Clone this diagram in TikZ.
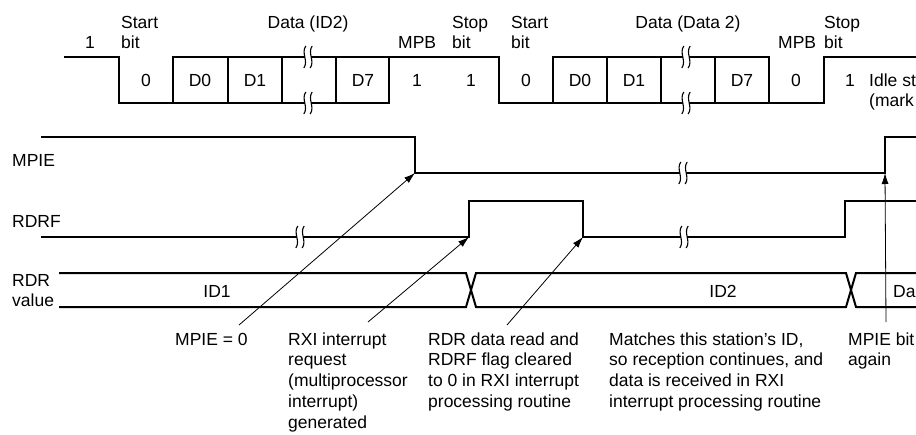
\documentclass[tikz,border=0pt]{standalone}
\usepackage{fontspec}
\setmainfont{Liberation Sans}
\usetikzlibrary{arrows.meta}
\newcommand\mlines[1]{\begin{tabular}[t]{@{}l@{}}#1\end{tabular}}
\newcommand\brkmark[2]{%
  \fill[white] (#1-3.2,#2-1.8) rectangle (#1+3.2,#2+1.8);
  \foreach \s in {-1,1}{
    \draw[brk] (#1+3.2*\s+1,#2-11) .. controls (#1+3.2*\s-4,#2-4) and (#1+3.2*\s+4,#2+4) .. (#1+3.2*\s-1,#2+11);}%
}
\begin{document}
\begin{tikzpicture}[x=1pt,y=-1pt,
  wave/.style={line width=2pt, line join=miter, line cap=rect},
  brk/.style={line width=1.1pt},
  pointer/.style={line width=0.8pt, -{Latex[length=11pt,width=7pt]}},
  lbl/.style={inner sep=0pt, font=\fontsize{17.5}{20.8}\selectfont},
  ]
\useasboundingbox (0,0) rectangle (916,434);
\clip (0,0) rectangle (916,434);

% ---------- serial waveform ----------
\draw[wave] (65,57) -- (119,57) -- (119,103) -- (173,103) -- (173,57) -- (499,57)
  -- (499,103) -- (553,103) -- (553,57) -- (769,57);
\draw[wave] (173,103) -- (389,103);
\draw[wave] (553,103) -- (824,103) -- (824,57) -- (920,57);
\foreach \x in {228,282,336,389,607,661,715,769}
  \draw[wave] (\x,57) -- (\x,103);
\brkmark{308}{57}
\brkmark{308}{103}
\brkmark{686}{57}
\brkmark{686}{103}

% top labels
\node[lbl, anchor=base] (one0) at (90,48) {1};
\node[lbl, anchor=base west] (start1) at (121,28) {\mlines{Start\\bit}};
\node[lbl, anchor=base] (data1) at (308,28) {Data (ID2)};
\node[lbl, anchor=base west] (mpb1) at (398,48) {MPB};
\node[lbl, anchor=base west] (stop1) at (452,28) {\mlines{Stop\\bit}};
\node[lbl, anchor=base west] (start2) at (511,28) {\mlines{Start\\bit}};
\node[lbl, anchor=base] (data2) at (688,28) {Data (Data 2)};
\node[lbl, anchor=base west] (mpb2) at (778,48) {MPB};
\node[lbl, anchor=base west] (stop2) at (824,28) {\mlines{Stop\\bit}};

% bit values
\node[lbl, anchor=base] (b1) at (146,86) {0};
\node[lbl, anchor=base] (b2) at (200,86) {D0};
\node[lbl, anchor=base] (b3) at (255,86) {D1};
\node[lbl, anchor=base] (b4) at (363,86) {D7};
\node[lbl, anchor=base] (b5) at (417,86) {1};
\node[lbl, anchor=base] (b6) at (471,86) {1};
\node[lbl, anchor=base] (b7) at (526,86) {0};
\node[lbl, anchor=base] (b8) at (580,86) {D0};
\node[lbl, anchor=base] (b9) at (634,86) {D1};
\node[lbl, anchor=base] (b10) at (742,86) {D7};
\node[lbl, anchor=base] (b11) at (796,86) {0};
\node[lbl, anchor=base] (b12) at (850,86) {1};
\node[lbl, anchor=base west] (idle) at (869,86) {\mlines{Idle st\\(mark}};

% ---------- MPIE ----------
\node[lbl, anchor=base west] (lmpie) at (12,166) {MPIE};
\draw[wave] (42,137) -- (415,137) -- (415,173) -- (885,173) -- (885,137) -- (920,137);
\brkmark{683}{173}
\coordinate (mpiefall) at (415,173);
\coordinate (mpierise) at (885,173);

% ---------- RDRF ----------
\node[lbl, anchor=base west] (lrdrf) at (12,227) {RDRF};
\draw[wave] (42,237) -- (469,237) -- (469,201) -- (583,201) -- (583,237) -- (845,237)
  -- (845,201) -- (920,201);
\brkmark{300}{237}
\brkmark{684}{237}
\coordinate (rdrfrise) at (469,237);
\coordinate (rdrffall) at (583,237);

% ---------- RDR value ----------
\node[lbl, anchor=base west] (lrdr) at (12,286) {\mlines{RDR\\value}};
\draw[wave] (60,273) -- (466,273) -- (476,307) -- (846,307) -- (856,273) -- (920,273);
\draw[wave] (60,307) -- (466,307) -- (476,273) -- (846,273) -- (856,307) -- (920,307);
\node[lbl, anchor=base] (id1) at (217,297) {ID1};
\node[lbl, anchor=base] (id2) at (723,297) {ID2};
\node[lbl, anchor=base west] (dat) at (893,297) {Da};

% ---------- notes ----------
\node[lbl, anchor=base west] (n1) at (175,345) {MPIE = 0};
\node[lbl, anchor=base west] (n2) at (288,345) {\mlines{RXI interrupt\\request\\(multiprocessor\\interrupt)\\generated}};
\node[lbl, anchor=base west] (n3) at (428,345) {\mlines{RDR data read and\\RDRF flag cleared\\to 0 in RXI interrupt\\processing routine}};
\node[lbl, anchor=base west] (n4) at (609,345) {\mlines{Matches this station's ID,\\so reception continues, and\\data is received in RXI\\interrupt processing routine}};
\node[lbl, anchor=base west] (n5) at (848,345) {\mlines{MPIE bit\\again}};

\coordinate (p1) at (239,325);
\coordinate (p2) at (368,322);
\coordinate (p3) at (507,325);
\coordinate (p4) at (886,322);
\draw[pointer] (p1) -- (mpiefall);
\draw[pointer] (p2) -- (rdrfrise);
\draw[pointer] (p3) -- (rdrffall);
\draw[pointer] (p4) -- (mpierise);
\end{tikzpicture}
\end{document}
